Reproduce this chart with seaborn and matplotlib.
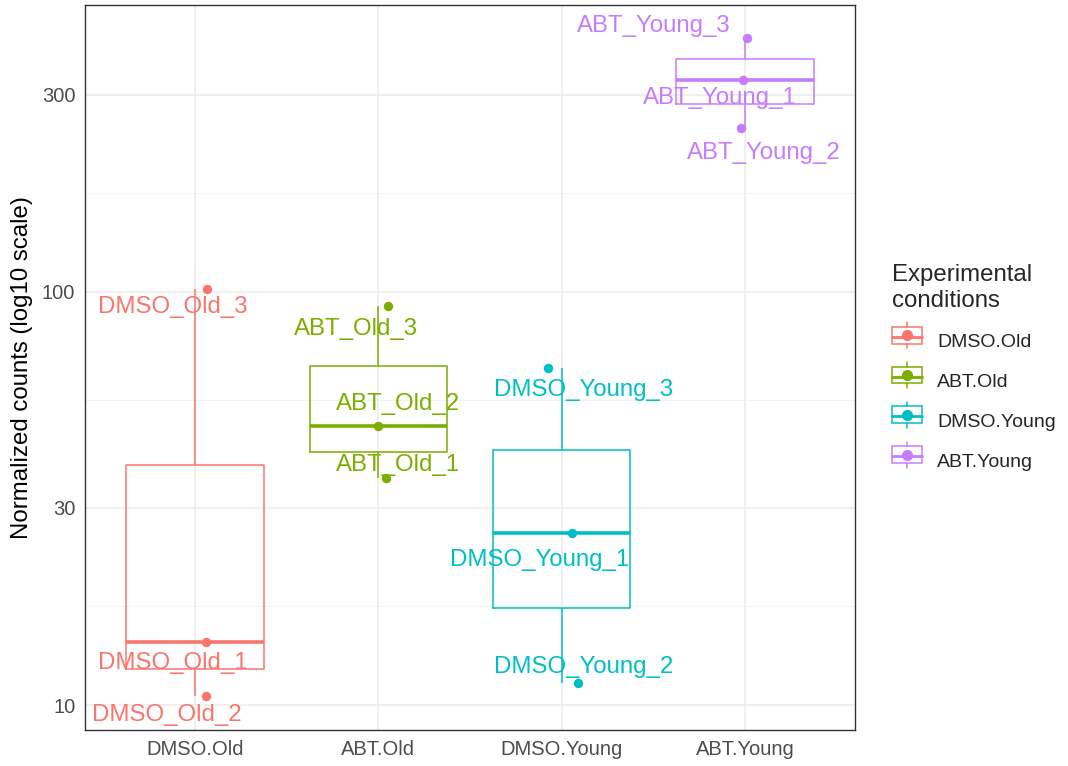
import numpy as np
import pandas as pd
import matplotlib
matplotlib.use("Agg")
import matplotlib.pyplot as plt
import seaborn as sns
from matplotlib.legend_handler import HandlerBase
from matplotlib.patches import Rectangle
from matplotlib.lines import Line2D

# data
conditions = ["DMSO.Old", "ABT.Old", "DMSO.Young", "ABT.Young"]
sample_condition = ["DMSO.Old", "DMSO.Old", "DMSO.Old",
                    "ABT.Old", "ABT.Old", "ABT.Old",
                    "DMSO.Young", "DMSO.Young", "DMSO.Young",
                    "ABT.Young", "ABT.Young", "ABT.Young"]
sample_names = ["DMSO_Old_1", "DMSO_Old_2", "DMSO_Old_3",
                "ABT_Old_1", "ABT_Old_2", "ABT_Old_3",
                "DMSO_Young_1", "DMSO_Young_2", "DMSO_Young_3",
                "ABT_Young_1", "ABT_Young_2", "ABT_Young_3"]
counts = [14.2, 10.5, 101.7,
          35.4, 47.4, 92.5,
          26.1, 11.3, 65.5,
          326, 249, 412]
jitter = [0.06, 0.06, 0.065,
          0.04, 0.0, 0.05,
          0.055, 0.09, -0.076,
          -0.01, -0.02, 0.01]
y_ticks = [10, 30, 100, 300]

# label placement (pixel offsets from each point, like ggrepel output)
label_dx = [-33, -39, -34, 12, 20, -32, -32, 5, 36, -23, 22, -93]
label_dy = [21, 19, 18, -13, -22, 23, 27, -16, 22, 18, 25, -12]

palette = ["#F8766D", "#7CAE00", "#00BFC4", "#C77CFF"]
colors = dict(zip(conditions, palette))

df = pd.DataFrame({"condition": sample_condition, "sample": sample_names,
                   "count": counts, "jitter": jitter})
df["xpos"] = df["condition"].map({c: i for i, c in enumerate(conditions)}) + df["jitter"]

sns.set_style("whitegrid")
plt.rcParams["font.family"] = ["Liberation Sans", "DejaVu Sans"]

fig = plt.figure(figsize=(10.68, 7.66), dpi=100)
ax = fig.add_axes([0.0796, 0.047, 0.7210, 0.9465])

sns.boxplot(data=df, x="condition", y="count", hue="condition", order=conditions,
            hue_order=conditions, palette=colors, fill=False, width=0.75,
            linewidth=1.1, showcaps=False, showfliers=False, log_scale=True,
            medianprops={"linewidth": 2.6}, legend=False, ax=ax)

for cond in conditions:
    sub = df[df["condition"] == cond]
    ax.scatter(sub["xpos"], sub["count"], s=46, color=colors[cond], zorder=4, linewidths=0)

for i, row in df.iterrows():
    ax.annotate(row["sample"], (row["xpos"], row["count"]),
                xytext=(label_dx[i], -label_dy[i]), textcoords="offset pixels",
                ha="center", va="center", fontsize=17.3, color=colors[row["condition"]],
                zorder=5)

ax.set_ylim(8.7, 495)
ax.set_xlim(-0.6, 3.6)
ax.set_yticks(y_ticks)
ax.set_yticklabels([str(t) for t in y_ticks])
minor = [np.sqrt(a * b) for a, b in zip(y_ticks[:-1], y_ticks[1:])]
ax.set_yticks(minor, minor=True)
ax.yaxis.set_minor_formatter(plt.NullFormatter())
ax.tick_params(axis="y", which="minor", length=0)
ax.tick_params(axis="both", which="major", length=4, width=0.8, color="#333333",
               labelsize=14.5, labelcolor="#4D4D4D", pad=3)

ax.grid(True, which="major", color="#EBEBEB", linewidth=1.1)
ax.grid(True, which="minor", axis="y", color="#F2F2F2", linewidth=0.7)
ax.set_axisbelow(True)
for s in ax.spines.values():
    s.set_visible(True)
    s.set_color("#333333")
    s.set_linewidth(1.0)

ax.set_xlabel("")
ax.set_ylabel("Normalized counts (log10 scale)", fontsize=17.3, color="black", labelpad=6)


class BoxKey(HandlerBase):
    def create_artists(self, legend, orig, xd, yd, w, h, fontsize, trans):
        c = orig.get_color()
        cx = xd + w / 2
        box = Rectangle((xd, yd + h * 0.05), w, h * 0.9, fill=False, ec=c, lw=1.1,
                        transform=trans)
        w1 = Line2D([cx, cx], [yd - h * 0.2, yd + h * 0.05], color=c, lw=1.1, transform=trans)
        w2 = Line2D([cx, cx], [yd + h * 0.95, yd + h * 1.2], color=c, lw=1.1, transform=trans)
        med = Line2D([xd, xd + w], [yd + h * 0.42] * 2, color=c, lw=2.0, transform=trans)
        dot = Line2D([cx], [yd + h * 0.5], marker="o", ms=7, color=c, lw=0, transform=trans)
        return [box, w1, w2, med, dot]


handles = [Line2D([], [], color=colors[c]) for c in conditions]
leg = fig.legend(handles, conditions, handler_map={Line2D: BoxKey()},
                 loc="upper left", bbox_to_anchor=(0.819, 0.678), frameon=False,
                 title="Experimental\nconditions", title_fontsize=17.3, fontsize=14,
                 handlelength=1.55, handleheight=1.1, labelspacing=1.02,
                 handletextpad=0.75, alignment="left")

fig.savefig("out.png", dpi=100)
